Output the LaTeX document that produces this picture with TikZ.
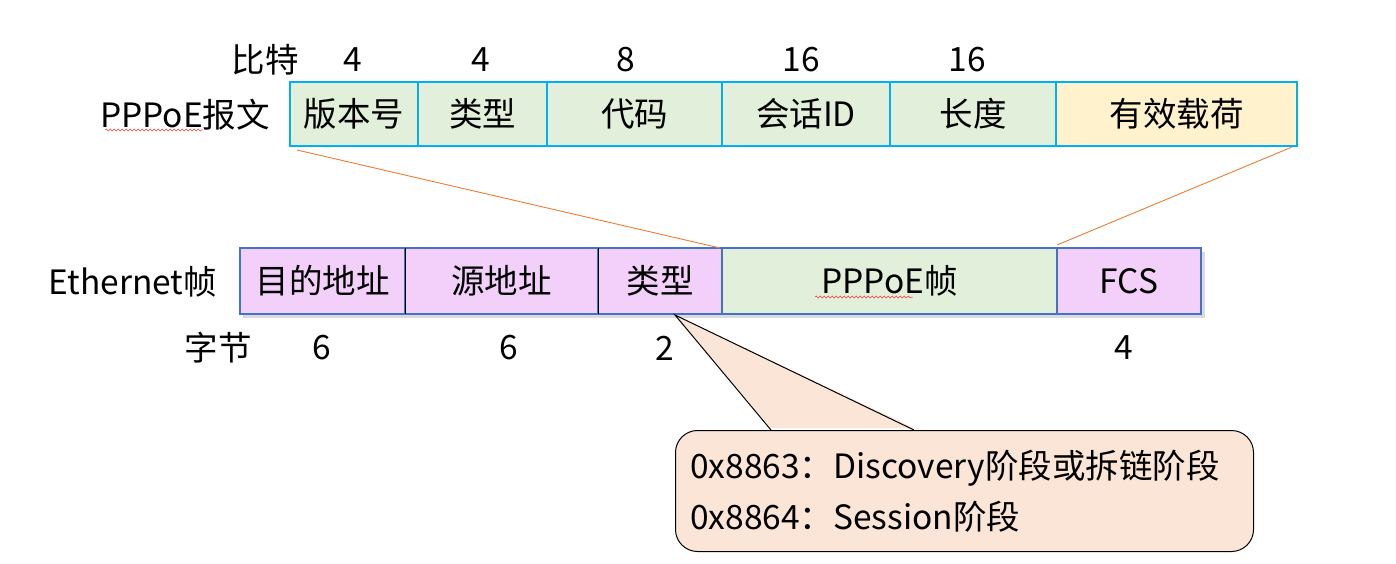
\documentclass[tikz,border=0pt]{standalone}
\usepackage{fontspec}
\setmainfont{Noto Sans CJK SC}
\usetikzlibrary{decorations.pathmorphing}
\definecolor{gfill}{HTML}{E2EFDA}
\definecolor{yfill}{HTML}{FFF2CC}
\definecolor{pfill}{HTML}{F2D0FA}
\definecolor{cyanb}{HTML}{00B0F0}
\definecolor{blueb}{HTML}{4472C4}
\definecolor{orl}{HTML}{ED7D31}
\definecolor{cfill}{HTML}{FBE5D6}
\tikzset{
  topbox/.style={draw=cyanb, line width=1.1pt, minimum height=64pt, inner sep=0pt, outer sep=0pt, anchor=north west, font=\fontsize{33.5}{38}\selectfont},
  botbox/.style={draw=blueb, line width=1.3pt, fill=pfill, minimum height=66pt, inner sep=0pt, outer sep=0pt, anchor=north west, font=\fontsize{33.5}{38}\selectfont},
  lbl/.style={inner sep=0pt, font=\fontsize{33.5}{38}\selectfont},
  orline/.style={draw=orl, line width=0.9pt},
  spell/.style={draw=red!80, line width=0.5pt, decorate, decoration={snake, segment length=4pt, amplitude=1pt}},
}
\begin{document}
\begin{tikzpicture}[x=1pt, y=-1pt]
\useasboundingbox (0,0) rectangle (1396,564);
% top labels
\node[lbl] (bit) at (265,60) {比特};
\node[lbl] (b1) at (353,60) {4};
\node[lbl] (b2) at (481,60) {4};
\node[lbl] (b3) at (626,60) {8};
\node[lbl] (b4) at (801,60) {16};
\node[lbl] (b5) at (967,60) {16};
\node[lbl, anchor=east] (pppoemsg) at (270,115) {PPPoE报文};
% top row
\node[topbox, fill=gfill, minimum width=128pt] (v) at (290,82) {版本号};
\node[topbox, fill=gfill, minimum width=129pt] (t) at (418,82) {类型};
\node[topbox, fill=gfill, minimum width=175pt] (c) at (547,82) {代码};
\node[topbox, fill=gfill, minimum width=168pt] (s) at (722,82) {会话ID};
\node[topbox, fill=gfill, minimum width=166pt] (l) at (890,82) {长度};
\node[topbox, fill=yfill, minimum width=241pt] (p) at (1056,82) {有效载荷};
% bottom shadow
\fill[black!14] (243,252) rectangle (1205,318);
% bottom row
\node[lbl, anchor=east] (eth) at (217,282) {Ethernet帧};
\node[botbox, minimum width=165pt] (dst) at (240,248) {目的地址};
\node[botbox, minimum width=193pt] (src) at (405,248) {源地址};
\node[botbox, minimum width=124pt] (typ) at (598,248) {类型};
\node[botbox, fill=gfill, minimum width=335pt] (pf) at (722,248) {PPPoE帧};
\node[botbox, minimum width=144pt] (fcs) at (1057,248) {FCS};
\draw[black, line width=0.8pt] (dst.north east) -- (dst.south east);
\draw[black, line width=0.8pt] (src.north east) -- (src.south east);
% bytes labels
\node[lbl] (byte) at (218,348) {字节};
\node[lbl] (y1) at (322,348) {6};
\node[lbl] (y2) at (509,348) {6};
\node[lbl] (y3) at (665,348) {2};
\node[lbl] (y4) at (1124,348) {4};
% orange mapping lines
\draw[orline] ([shift={(7,4)}]v.south west) -- ([shift={(-2,0)}]pf.north west);
\draw[orline] ([shift={(-5,1)}]p.south east) -- ([shift={(0,-3)}]fcs.north west);
% spell-check underlines
\draw[spell] (105,130) -- (203,130);
\draw[spell] (815,297) -- (913,297);
% callout
\node[draw=black, line width=1pt, fill=cfill, rounded corners=22pt, minimum width=578pt, minimum height=121pt, anchor=north west, inner sep=0pt] (call) at (675,430) {};
\coordinate (tip) at ([shift={(15,1)}]typ.south);
\coordinate (ba) at (771,430);
\coordinate (bb) at (914,430);
\fill[cfill] (tip) -- ([yshift=2pt]ba) -- ([yshift=2pt]bb) -- cycle;
\draw[black, line width=1pt] (ba) -- (tip) -- (bb);
\node[lbl, anchor=west] (l1) at (690,468) {0x8863：Discovery阶段或拆链阶段};
\node[lbl, anchor=west] (l2) at (690,517) {0x8864：Session阶段};
\end{tikzpicture}
\end{document}
